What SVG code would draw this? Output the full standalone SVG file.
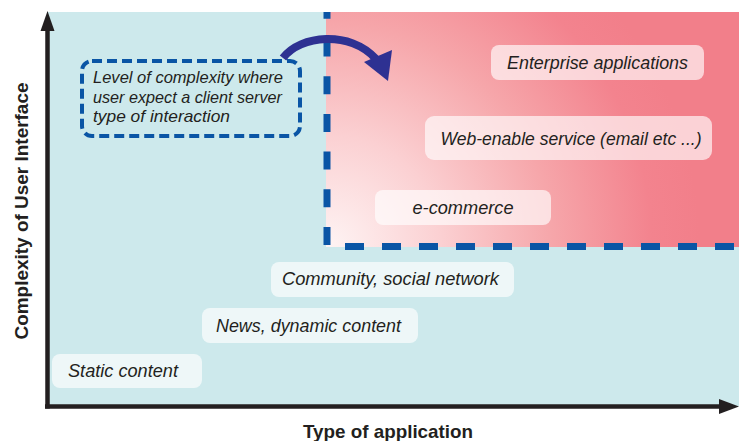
<svg xmlns="http://www.w3.org/2000/svg" width="739" height="441" viewBox="0 0 739 441">
  <defs>
    <radialGradient id="pinkGrad" gradientUnits="userSpaceOnUse" cx="330" cy="246" r="370">
      <stop offset="0" stop-color="#fef3f3"/>
      <stop offset="0.3" stop-color="#fbd0d2"/>
      <stop offset="0.6" stop-color="#f6a6aa"/>
      <stop offset="0.87" stop-color="#f3838e"/>
      <stop offset="1" stop-color="#f27f8a"/>
    </radialGradient>
  </defs>
  <style>
    .lbl { font-family: "Liberation Sans", Arial, sans-serif; font-style: italic; font-size: 18.5px; fill: #231f20; }
    .note { font-family: "Liberation Sans", Arial, sans-serif; font-style: italic; font-size: 17px; fill: #231f20; }
    .axis-title { font-family: "Liberation Sans", Arial, sans-serif; font-weight: bold; font-size: 19px; fill: #231f20; }
    .box { fill: #ffffff; fill-opacity: 0.65; }
    .axis { stroke: #231f20; stroke-width: 4.5; fill: none; }
    .bigdash { stroke: #0a55a5; stroke-width: 7; fill: none; }
  </style>

  <!-- backgrounds -->
  <rect x="47" y="12" width="692" height="394" fill="#cde9ec"/>
  <rect x="326" y="12" width="413" height="235" fill="url(#pinkGrad)"/>

  <!-- big dashed boundary -->
  <g id="boundary">
    <path class="bigdash" d="M327,245 V12" stroke-dasharray="18 19.7"/>
    <path class="bigdash" d="M345,246.5 H739" stroke-dasharray="19 18"/>
  </g>

  <!-- axes -->
  <g id="axes">
    <line class="axis" x1="47.5" y1="408.5" x2="47.5" y2="28"/>
    <polygon points="47.5,11 54.5,31 40.5,31" fill="#231f20"/>
    <line class="axis" x1="45" y1="406.5" x2="722" y2="406.5"/>
    <polygon points="739,406.5 719,399 719,414" fill="#231f20"/>
    <text class="axis-title" x="388" y="438" text-anchor="middle" textLength="170" lengthAdjust="spacingAndGlyphs">Type of application</text>
    <text class="axis-title" transform="translate(28,211) rotate(-90)" x="0" y="0" text-anchor="middle" textLength="257" lengthAdjust="spacingAndGlyphs">Complexity of User Interface</text>
  </g>

  <!-- note box -->
  <g id="note">
    <rect x="82" y="61" width="218" height="75" rx="10" ry="10" fill="none" stroke="#0a55a5" stroke-width="4" stroke-dasharray="10 5"/>
    <text class="note" x="93" y="83" textLength="190" lengthAdjust="spacingAndGlyphs">Level of complexity where</text>
    <text class="note" x="93" y="103" textLength="189" lengthAdjust="spacingAndGlyphs">user expect a client server</text>
    <text class="note" x="93" y="122" textLength="137" lengthAdjust="spacingAndGlyphs">type of interaction</text>
  </g>

  <!-- category nodes -->
  <g id="enterprise">
    <rect class="box" x="491" y="45" width="213" height="35" rx="8"/>
    <text class="lbl" x="507" y="69" textLength="181" lengthAdjust="spacingAndGlyphs">Enterprise applications</text>
  </g>
  <g id="webenable">
    <rect class="box" x="425" y="116" width="287" height="44" rx="9"/>
    <text class="lbl" x="440.5" y="145" textLength="261" lengthAdjust="spacingAndGlyphs">Web-enable service (email etc ...)</text>
  </g>
  <g id="ecommerce">
    <rect class="box" x="375" y="190" width="176" height="35" rx="8"/>
    <text class="lbl" x="412.5" y="214" textLength="101" lengthAdjust="spacingAndGlyphs">e-commerce</text>
  </g>
  <g id="community">
    <rect class="box" x="271" y="262" width="243" height="35" rx="8"/>
    <text class="lbl" x="282" y="285" textLength="217" lengthAdjust="spacingAndGlyphs">Community, social network</text>
  </g>
  <g id="news">
    <rect class="box" x="202" y="308" width="216" height="35" rx="8"/>
    <text class="lbl" x="216" y="332" textLength="185" lengthAdjust="spacingAndGlyphs">News, dynamic content</text>
  </g>
  <g id="static">
    <rect class="box" x="52" y="354" width="150" height="34" rx="8"/>
    <text class="lbl" x="68" y="377" textLength="110" lengthAdjust="spacingAndGlyphs">Static content</text>
  </g>

  <!-- connectors -->
  <g id="connectors">
    <path d="M283,58 C300,35 350,30 376,59" fill="none" stroke="#2e3192" stroke-width="8"/>
    <polygon points="364,62 392,50 388,81" fill="#2e3192"/>
  </g>
</svg>
